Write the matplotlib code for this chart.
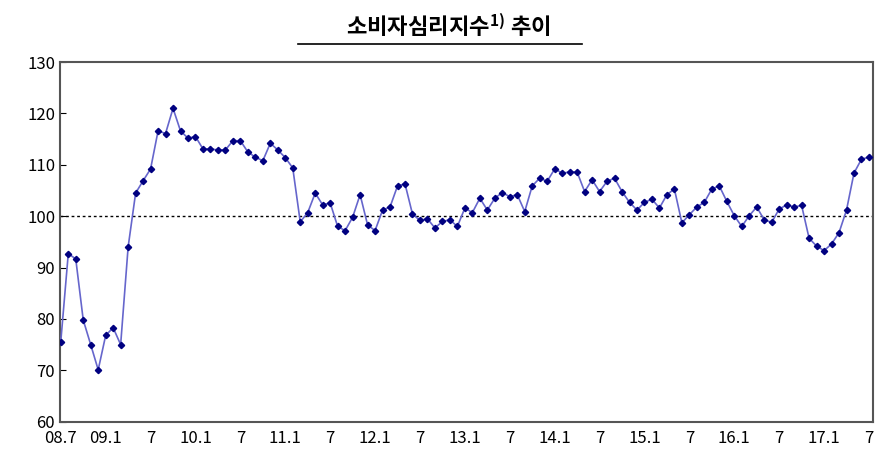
import matplotlib

matplotlib.use("Agg")
import matplotlib.pyplot as plt
import numpy as np

plt.rcParams["font.family"] = ["Noto Sans CJK KR", "DejaVu Sans"]

# monthly values, 2008.7 - 2017.7
csi = [
    75.6, 92.7, 91.7, 79.8, 75.0, 70.1, 76.8, 78.3, 75.0, 94.0, 104.5, 106.9,
    109.2, 116.6, 116.1, 121.0, 116.6, 115.2, 115.5, 113.1, 113.1, 112.9, 112.9, 114.7,
    114.7, 112.5, 111.5, 110.8, 114.2, 112.9, 111.4, 109.4, 98.9, 100.7, 104.5, 102.2,
    102.6,
    98.0, 97.2, 99.8, 104.2, 98.3, 97.2, 101.2, 101.8, 105.9, 106.3, 100.4, 99.2,
    99.5, 97.7, 99.0, 99.3, 98.0, 101.6, 100.7, 103.5, 101.2, 103.5, 104.6, 103.8,
    104.2, 100.9, 105.9, 107.4, 106.8, 109.2, 108.4, 108.6, 108.6, 104.8, 107.1, 104.8,
    106.8, 107.4, 104.8, 102.7, 101.2, 102.7, 103.3, 101.6, 104.2, 105.3, 98.7, 100.3,
    101.8, 102.7, 105.3, 105.9, 102.9, 100.1, 98.0, 100.1, 101.8, 99.3, 98.8, 101.4,
    102.2, 101.8, 102.1, 95.7, 94.2, 93.3, 94.6, 96.8, 101.2, 108.4, 111.1, 111.5,
]
tick_labels = ["08.7", "09.1", "7", "10.1", "7", "11.1", "7", "12.1", "7", "13.1",
               "7", "14.1", "7", "15.1", "7", "16.1", "7", "17.1", "7"]

fig = plt.figure(figsize=(8.96, 4.67), dpi=100)
ax = fig.add_axes([0.067, 0.097, 0.907, 0.77])
x = np.arange(len(csi))
ax.plot(x, csi, color="#6666cc", lw=1.2, marker="D", ms=3.2,
        mfc="#000080", mec="#000080", zorder=3)
ax.axhline(100, color="black", ls=(0, (2, 2)), lw=1)
ax.set_xlim(-0.1, len(csi) - 0.5)
ax.set_ylim(60, 130)
ax.set_yticks(range(60, 131, 10))
ax.set_xticks(np.arange(0, len(csi), 6))
ax.set_xticklabels(tick_labels)
ax.tick_params(axis="both", labelsize=12, direction="in", length=4)
ax.tick_params(axis="x", length=0, pad=6)
for s in ax.spines.values():
    s.set_color("#555555")
    s.set_linewidth(1.5)

fig.text(0.5, 0.945, r"소비자심리지수$^{\mathregular{1)}}$ 추이", ha="center", va="center",
         fontsize=16, fontweight="bold")
fig.add_artist(plt.Line2D([0.333, 0.65], [0.905, 0.905], color="black", lw=1.2))
fig.savefig("out.png", dpi=100)
